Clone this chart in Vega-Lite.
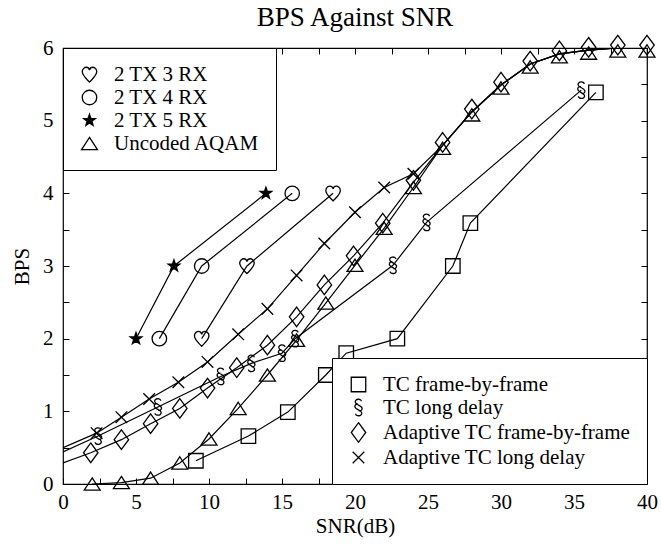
{
  "$schema": "https://vega.github.io/schema/vega-lite/v6.json",
  "width": 584,
  "height": 436,
  "autosize": {"type": "none"},
  "padding": {"left": 63, "top": 48, "right": 14, "bottom": 62},
  "background": "white",
  "title": {"text": "BPS Against SNR", "font": "Liberation Serif", "fontSize": 27, "fontWeight": "normal", "color": "black", "anchor": "middle", "offset": 14, "dy": 13},
  "config": {
    "view": {"stroke": "black", "strokeWidth": 1.2},
    "axis": {"grid": false, "domain": false, "tickColor": "black", "tickWidth": 1, "labelColor": "black", "titleColor": "black", "labelFont": "Liberation Serif", "titleFont": "Liberation Serif", "labelFontSize": 21, "titleFontSize": 21, "titleFontWeight": "normal", "labelFlush": false, "labelOverlap": false, "tickSize": -6}
  },
  "datasets": {
    "curves": [
      {"s": "Adaptive TC long delay", "x": 0, "y": 0.5},
      {"s": "Adaptive TC long delay", "x": 2.3, "y": 0.7},
      {"s": "Adaptive TC long delay", "x": 4, "y": 0.92},
      {"s": "Adaptive TC long delay", "x": 5.9, "y": 1.17},
      {"s": "Adaptive TC long delay", "x": 7.9, "y": 1.4},
      {"s": "Adaptive TC long delay", "x": 9.9, "y": 1.68},
      {"s": "Adaptive TC long delay", "x": 12, "y": 2.06},
      {"s": "Adaptive TC long delay", "x": 14, "y": 2.41},
      {"s": "Adaptive TC long delay", "x": 16, "y": 2.87},
      {"s": "Adaptive TC long delay", "x": 17.9, "y": 3.31},
      {"s": "Adaptive TC long delay", "x": 20, "y": 3.74},
      {"s": "Adaptive TC long delay", "x": 22, "y": 4.08},
      {"s": "Adaptive TC long delay", "x": 24, "y": 4.27},
      {"s": "Adaptive TC long delay", "x": 26, "y": 4.66},
      {"s": "Adaptive TC long delay", "x": 28, "y": 5.12},
      {"s": "Adaptive TC long delay", "x": 30, "y": 5.49},
      {"s": "Adaptive TC long delay", "x": 32, "y": 5.78},
      {"s": "Adaptive TC long delay", "x": 34, "y": 5.92},
      {"s": "Adaptive TC long delay", "x": 36, "y": 5.97},
      {"s": "Adaptive TC long delay", "x": 38, "y": 6.0},
      {"s": "Adaptive TC long delay", "x": 40, "y": 6.0},
      {"s": "Adaptive TC frame-by-frame", "x": 0, "y": 0.29},
      {"s": "Adaptive TC frame-by-frame", "x": 1.9, "y": 0.43},
      {"s": "Adaptive TC frame-by-frame", "x": 4, "y": 0.61},
      {"s": "Adaptive TC frame-by-frame", "x": 6, "y": 0.83},
      {"s": "Adaptive TC frame-by-frame", "x": 8, "y": 1.04},
      {"s": "Adaptive TC frame-by-frame", "x": 9.9, "y": 1.32},
      {"s": "Adaptive TC frame-by-frame", "x": 11.9, "y": 1.6},
      {"s": "Adaptive TC frame-by-frame", "x": 14, "y": 1.91},
      {"s": "Adaptive TC frame-by-frame", "x": 16, "y": 2.3},
      {"s": "Adaptive TC frame-by-frame", "x": 17.9, "y": 2.74},
      {"s": "Adaptive TC frame-by-frame", "x": 19.9, "y": 3.14},
      {"s": "Adaptive TC frame-by-frame", "x": 21.9, "y": 3.59},
      {"s": "Adaptive TC frame-by-frame", "x": 24, "y": 4.15},
      {"s": "Adaptive TC frame-by-frame", "x": 26, "y": 4.66},
      {"s": "Adaptive TC frame-by-frame", "x": 28, "y": 5.12},
      {"s": "Adaptive TC frame-by-frame", "x": 30, "y": 5.49},
      {"s": "Adaptive TC frame-by-frame", "x": 32, "y": 5.78},
      {"s": "Adaptive TC frame-by-frame", "x": 34, "y": 5.92},
      {"s": "Adaptive TC frame-by-frame", "x": 36, "y": 5.97},
      {"s": "Adaptive TC frame-by-frame", "x": 38, "y": 6.0},
      {"s": "Adaptive TC frame-by-frame", "x": 40, "y": 6.0},
      {"s": "TC long delay", "x": 0, "y": 0.44},
      {"s": "TC long delay", "x": 2.4, "y": 0.66},
      {"s": "TC long delay", "x": 6.5, "y": 1.06},
      {"s": "TC long delay", "x": 10.8, "y": 1.48},
      {"s": "TC long delay", "x": 12.9, "y": 1.66},
      {"s": "TC long delay", "x": 15, "y": 1.8},
      {"s": "TC long delay", "x": 15.9, "y": 2.0},
      {"s": "TC long delay", "x": 22.6, "y": 3.01},
      {"s": "TC long delay", "x": 24.9, "y": 3.6},
      {"s": "TC long delay", "x": 35.5, "y": 5.42},
      {"s": "TC frame-by-frame", "x": 9.1, "y": 0.32},
      {"s": "TC frame-by-frame", "x": 12.7, "y": 0.66},
      {"s": "TC frame-by-frame", "x": 15.4, "y": 0.99},
      {"s": "TC frame-by-frame", "x": 18, "y": 1.5},
      {"s": "TC frame-by-frame", "x": 19.4, "y": 1.8},
      {"s": "TC frame-by-frame", "x": 22.9, "y": 2.0},
      {"s": "TC frame-by-frame", "x": 26.7, "y": 3.0},
      {"s": "TC frame-by-frame", "x": 27.9, "y": 3.59},
      {"s": "TC frame-by-frame", "x": 36.5, "y": 5.39},
      {"s": "Uncoded AQAM", "x": 2, "y": 0},
      {"s": "Uncoded AQAM", "x": 4, "y": 0.02},
      {"s": "Uncoded AQAM", "x": 6, "y": 0.08},
      {"s": "Uncoded AQAM", "x": 8, "y": 0.29},
      {"s": "Uncoded AQAM", "x": 10, "y": 0.62},
      {"s": "Uncoded AQAM", "x": 12, "y": 1.04},
      {"s": "Uncoded AQAM", "x": 14, "y": 1.5},
      {"s": "Uncoded AQAM", "x": 16, "y": 1.98},
      {"s": "Uncoded AQAM", "x": 18, "y": 2.49},
      {"s": "Uncoded AQAM", "x": 20, "y": 3.01},
      {"s": "Uncoded AQAM", "x": 22, "y": 3.52},
      {"s": "Uncoded AQAM", "x": 24, "y": 4.08},
      {"s": "Uncoded AQAM", "x": 26, "y": 4.66},
      {"s": "Uncoded AQAM", "x": 28, "y": 5.12},
      {"s": "Uncoded AQAM", "x": 30, "y": 5.49},
      {"s": "Uncoded AQAM", "x": 32, "y": 5.78},
      {"s": "Uncoded AQAM", "x": 34, "y": 5.92},
      {"s": "Uncoded AQAM", "x": 36, "y": 5.97},
      {"s": "Uncoded AQAM", "x": 38, "y": 6.0},
      {"s": "Uncoded AQAM", "x": 40, "y": 6.0},
      {"s": "2 TX 5 RX", "x": 5, "y": 2},
      {"s": "2 TX 5 RX", "x": 7.6, "y": 3},
      {"s": "2 TX 5 RX", "x": 13.9, "y": 4},
      {"s": "2 TX 4 RX", "x": 6.6, "y": 2},
      {"s": "2 TX 4 RX", "x": 9.5, "y": 3},
      {"s": "2 TX 4 RX", "x": 15.7, "y": 4},
      {"s": "2 TX 3 RX", "x": 9.5, "y": 2},
      {"s": "2 TX 3 RX", "x": 12.6, "y": 3},
      {"s": "2 TX 3 RX", "x": 18.5, "y": 4}
    ],
    "markersA": [
      {"s": "2 TX 3 RX", "x": 9.5, "y": 2},
      {"s": "2 TX 3 RX", "x": 12.6, "y": 3},
      {"s": "2 TX 3 RX", "x": 18.5, "y": 4},
      {"s": "2 TX 4 RX", "x": 6.6, "y": 2},
      {"s": "2 TX 4 RX", "x": 9.5, "y": 3},
      {"s": "2 TX 4 RX", "x": 15.7, "y": 4},
      {"s": "2 TX 5 RX", "x": 5, "y": 2},
      {"s": "2 TX 5 RX", "x": 7.6, "y": 3},
      {"s": "2 TX 5 RX", "x": 13.9, "y": 4},
      {"s": "Uncoded AQAM", "x": 2, "y": 0},
      {"s": "Uncoded AQAM", "x": 4, "y": 0.02},
      {"s": "Uncoded AQAM", "x": 6, "y": 0.08},
      {"s": "Uncoded AQAM", "x": 8, "y": 0.29},
      {"s": "Uncoded AQAM", "x": 10, "y": 0.62},
      {"s": "Uncoded AQAM", "x": 12, "y": 1.04},
      {"s": "Uncoded AQAM", "x": 14, "y": 1.5},
      {"s": "Uncoded AQAM", "x": 16, "y": 1.98},
      {"s": "Uncoded AQAM", "x": 18, "y": 2.49},
      {"s": "Uncoded AQAM", "x": 20, "y": 3.01},
      {"s": "Uncoded AQAM", "x": 22, "y": 3.52},
      {"s": "Uncoded AQAM", "x": 24, "y": 4.08},
      {"s": "Uncoded AQAM", "x": 26, "y": 4.62},
      {"s": "Uncoded AQAM", "x": 28, "y": 5.08},
      {"s": "Uncoded AQAM", "x": 30, "y": 5.45},
      {"s": "Uncoded AQAM", "x": 32, "y": 5.74},
      {"s": "Uncoded AQAM", "x": 34, "y": 5.88},
      {"s": "Uncoded AQAM", "x": 36, "y": 5.93},
      {"s": "Uncoded AQAM", "x": 38, "y": 5.96},
      {"s": "Uncoded AQAM", "x": 40, "y": 5.96}
    ],
    "markersB": [
      {"s": "TC frame-by-frame", "x": 9.1, "y": 0.32},
      {"s": "TC frame-by-frame", "x": 12.7, "y": 0.66},
      {"s": "TC frame-by-frame", "x": 15.4, "y": 0.99},
      {"s": "TC frame-by-frame", "x": 18, "y": 1.5},
      {"s": "TC frame-by-frame", "x": 19.4, "y": 1.8},
      {"s": "TC frame-by-frame", "x": 22.9, "y": 2.0},
      {"s": "TC frame-by-frame", "x": 26.7, "y": 3.0},
      {"s": "TC frame-by-frame", "x": 27.9, "y": 3.59},
      {"s": "TC frame-by-frame", "x": 36.5, "y": 5.39},
      {"s": "TC long delay", "x": 2.4, "y": 0.66},
      {"s": "TC long delay", "x": 6.5, "y": 1.06},
      {"s": "TC long delay", "x": 10.8, "y": 1.48},
      {"s": "TC long delay", "x": 12.9, "y": 1.66},
      {"s": "TC long delay", "x": 15, "y": 1.8},
      {"s": "TC long delay", "x": 15.9, "y": 2.0},
      {"s": "TC long delay", "x": 22.6, "y": 3.01},
      {"s": "TC long delay", "x": 24.9, "y": 3.6},
      {"s": "TC long delay", "x": 35.5, "y": 5.42},
      {"s": "Adaptive TC frame-by-frame", "x": 1.9, "y": 0.43},
      {"s": "Adaptive TC frame-by-frame", "x": 4, "y": 0.61},
      {"s": "Adaptive TC frame-by-frame", "x": 6, "y": 0.83},
      {"s": "Adaptive TC frame-by-frame", "x": 8, "y": 1.04},
      {"s": "Adaptive TC frame-by-frame", "x": 9.9, "y": 1.32},
      {"s": "Adaptive TC frame-by-frame", "x": 11.9, "y": 1.6},
      {"s": "Adaptive TC frame-by-frame", "x": 14, "y": 1.91},
      {"s": "Adaptive TC frame-by-frame", "x": 16, "y": 2.3},
      {"s": "Adaptive TC frame-by-frame", "x": 17.9, "y": 2.74},
      {"s": "Adaptive TC frame-by-frame", "x": 19.9, "y": 3.14},
      {"s": "Adaptive TC frame-by-frame", "x": 21.9, "y": 3.59},
      {"s": "Adaptive TC frame-by-frame", "x": 24, "y": 4.18},
      {"s": "Adaptive TC frame-by-frame", "x": 26, "y": 4.7},
      {"s": "Adaptive TC frame-by-frame", "x": 28, "y": 5.16},
      {"s": "Adaptive TC frame-by-frame", "x": 30, "y": 5.53},
      {"s": "Adaptive TC frame-by-frame", "x": 32, "y": 5.82},
      {"s": "Adaptive TC frame-by-frame", "x": 34, "y": 5.96},
      {"s": "Adaptive TC frame-by-frame", "x": 36, "y": 6.01},
      {"s": "Adaptive TC frame-by-frame", "x": 38, "y": 6.04},
      {"s": "Adaptive TC frame-by-frame", "x": 40, "y": 6.04},
      {"s": "Adaptive TC long delay", "x": 2.3, "y": 0.7},
      {"s": "Adaptive TC long delay", "x": 4, "y": 0.92},
      {"s": "Adaptive TC long delay", "x": 5.9, "y": 1.17},
      {"s": "Adaptive TC long delay", "x": 7.9, "y": 1.4},
      {"s": "Adaptive TC long delay", "x": 9.9, "y": 1.68},
      {"s": "Adaptive TC long delay", "x": 12, "y": 2.06},
      {"s": "Adaptive TC long delay", "x": 14, "y": 2.41},
      {"s": "Adaptive TC long delay", "x": 16, "y": 2.87},
      {"s": "Adaptive TC long delay", "x": 17.9, "y": 3.31},
      {"s": "Adaptive TC long delay", "x": 20, "y": 3.74},
      {"s": "Adaptive TC long delay", "x": 22, "y": 4.08},
      {"s": "Adaptive TC long delay", "x": 24, "y": 4.27}
    ]
  },
  "resolve": {
    "scale": {"shape": "independent"},
    "legend": {"shape": "independent"},
    "axis": {"x": "independent", "y": "independent"}
  },
  "layer": [
    {
      "data": {"name": "curves"},
      "mark": {"type": "line", "color": "black", "strokeWidth": 1.2, "clip": true},
      "encoding": {
        "x": {"field": "x", "type": "quantitative", "scale": {"domain": [0, 40], "nice": false, "zero": false},
          "axis": {"orient": "bottom", "values": [0, 2.5, 5, 7.5, 10, 12.5, 15, 17.5, 20, 22.5, 25, 27.5, 30, 32.5, 35, 37.5, 40], "labelExpr": "datum.value % 5 === 0 ? format(datum.value, 'd') : ''", "labelPadding": 13, "title": "SNR(dB)", "titleBaseline": "alphabetic", "titleY": 48}},
        "y": {"field": "y", "type": "quantitative", "scale": {"domain": [0, 6], "nice": false},
          "axis": {"orient": "left", "values": [0, 0.5, 1, 1.5, 2, 2.5, 3, 3.5, 4, 4.5, 5, 5.5, 6], "labelExpr": "datum.value % 1 === 0 ? format(datum.value, 'd') : ''", "labelPadding": 16, "title": "BPS", "titleX": -41, "titleY": 218, "titleBaseline": "middle", "titleAngle": -90, "titleAlign": "center"}},
        "detail": {"field": "s", "type": "nominal"}
      }
    },
    {
      "data": {"name": "markersA"},
      "mark": {"type": "point", "filled": false, "stroke": "black", "strokeWidth": 1.3, "size": 210, "opacity": 1},
      "encoding": {
        "x": {"field": "x", "type": "quantitative", "axis": {"orient": "top", "values": [0, 2.5, 5, 7.5, 10, 12.5, 15, 17.5, 20, 22.5, 25, 27.5, 30, 32.5, 35, 37.5, 40], "labels": false, "title": null}},
        "y": {"field": "y", "type": "quantitative", "axis": {"orient": "right", "values": [0, 0.5, 1, 1.5, 2, 2.5, 3, 3.5, 4, 4.5, 5, 5.5, 6], "labels": false, "title": null}},
        "shape": {"field": "s", "type": "nominal",
          "scale": {"domain": ["2 TX 3 RX", "2 TX 4 RX", "2 TX 5 RX", "Uncoded AQAM"],
            "range": [
              "M0,1.05 C-0.4,0.6 -1,0.15 -1,-0.4 C-1,-0.85 -0.6,-1 -0.45,-1 C-0.2,-1 -0.05,-0.85 0,-0.6 C0.05,-0.85 0.2,-1 0.45,-1 C0.6,-1 1,-0.85 1,-0.4 C1,0.15 0.4,0.6 0,1.05 Z",
              "circle",
              "M0,-0.85 L0.2,-0.275 L0.808,-0.263 L0.323,0.105 L0.5,0.688 L0,0.34 L-0.5,0.688 L-0.323,0.105 L-0.808,-0.263 L-0.2,-0.275 Z M0,0 L0,-0.85 M0,0 L0.808,-0.263 M0,0 L0.5,0.688 M0,0 L-0.5,0.688 M0,0 L-0.808,-0.263 M0,0 L0.2,-0.275 M0,0 L0.323,0.105 M0,0 L0,0.34 M0,0 L-0.323,0.105 M0,0 L-0.2,-0.275",
              "M0,-0.85 L1.1,0.85 L-1.1,0.85 Z"
            ]},
          "legend": {"orient": "top-left", "offset": 0, "title": null, "strokeColor": "black", "fillColor": "white", "padding": 16, "labelFont": "Liberation Serif", "labelFontSize": 21, "labelColor": "black", "labelLimit": 400, "symbolSize": 210, "symbolStrokeWidth": 1.3, "symbolStrokeColor": "black", "symbolFillColor": "transparent", "labelOffset": 14, "rowPadding": 1}}
      }
    },
    {
      "data": {"name": "markersB"},
      "mark": {"type": "point", "filled": false, "stroke": "black", "strokeWidth": 1.3, "size": 210, "opacity": 1},
      "encoding": {
        "x": {"field": "x", "type": "quantitative", "axis": null},
        "y": {"field": "y", "type": "quantitative", "axis": null},
        "shape": {"field": "s", "type": "nominal",
          "scale": {"domain": ["TC frame-by-frame", "TC long delay", "Adaptive TC frame-by-frame", "Adaptive TC long delay"],
            "range": [
              "square",
              "M0.4,-0.85 C0.4,-1.25 -0.5,-1.25 -0.45,-0.75 C-0.4,-0.35 0.5,-0.3 0.5,0.15 C0.5,0.45 0.2,0.5 0.05,0.45 M-0.4,0.85 C-0.4,1.25 0.5,1.25 0.45,0.75 C0.4,0.35 -0.5,0.3 -0.5,-0.15 C-0.5,-0.45 -0.2,-0.5 -0.05,-0.45",
              "M0,-1.35 L1,0 L0,1.35 L-1,0 Z",
              "M-0.8,-0.8 L0.8,0.8 M0.8,-0.8 L-0.8,0.8"
            ]},
          "legend": {"orient": "bottom-right", "offset": 0, "title": null, "strokeColor": "black", "fillColor": "white", "padding": 16, "labelFont": "Liberation Serif", "labelFontSize": 21, "labelColor": "black", "labelLimit": 400, "symbolSize": 210, "symbolStrokeWidth": 1.3, "symbolStrokeColor": "black", "symbolFillColor": "transparent", "labelOffset": 14, "rowPadding": 1}}
      }
    }
  ]
}
